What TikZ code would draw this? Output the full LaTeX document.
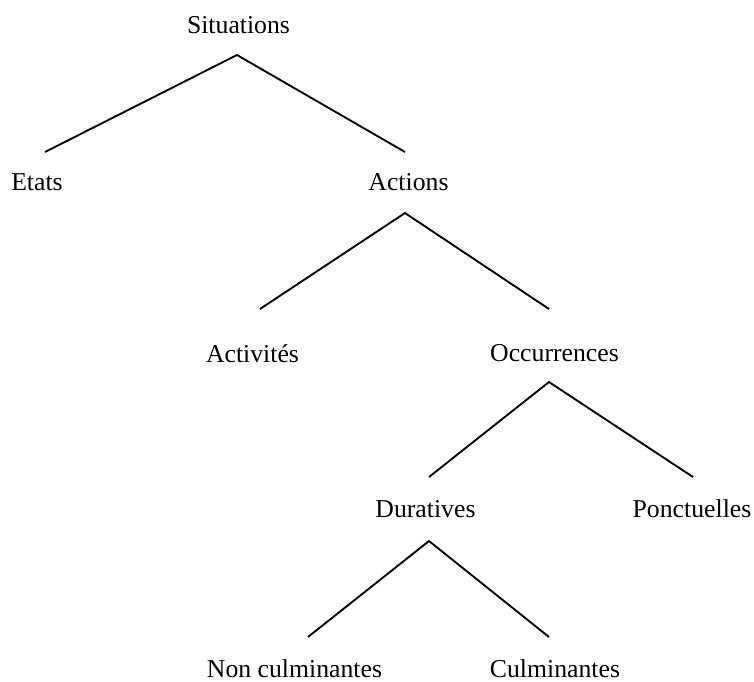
\documentclass[tikz,border=0pt]{standalone}
\usepackage{fontspec}
\setmainfont{Liberation Serif}
\begin{document}
\begin{tikzpicture}[x=0.75pt,y=-0.75pt,
  lbl/.style={anchor=base,inner sep=0pt,font=\fontsize{19.3}{23}\selectfont},
  branch/.style={line width=1.4pt,line join=miter}]
\useasboundingbox (0,0) rectangle (754,682);
% labels
\node[lbl] (sit) at (238.5,33) {Situations};
\node[lbl] (eta) at (37,190) {Etats};
\node[lbl] (act) at (408.5,190) {Actions};
\node[lbl] (acv) at (252.5,362) {Activités};
\node[lbl] (occ) at (554.5,361) {Occurrences};
\node[lbl] (dur) at (425.5,517) {Duratives};
\node[lbl] (pon) at (692,517) {Ponctuelles};
\node[lbl] (ncu) at (294.5,677) {Non culminantes};
\node[lbl] (cul) at (555,677) {Culminantes};
% branch points
\coordinate (a1) at (237,55);  \coordinate (e1) at (45,152);  \coordinate (e2) at (405,152);
\coordinate (a2) at (405,213); \coordinate (e3) at (260,309); \coordinate (e4) at (549,309);
\coordinate (a3) at (549,382); \coordinate (e5) at (429,477); \coordinate (e6) at (693,477);
\coordinate (a4) at (429,541); \coordinate (e7) at (308,637); \coordinate (e8) at (549,637);
\draw[branch] (e1) -- (a1) -- (e2);
\draw[branch] (e3) -- (a2) -- (e4);
\draw[branch] (e5) -- (a3) -- (e6);
\draw[branch] (e7) -- (a4) -- (e8);
\end{tikzpicture}
\end{document}
